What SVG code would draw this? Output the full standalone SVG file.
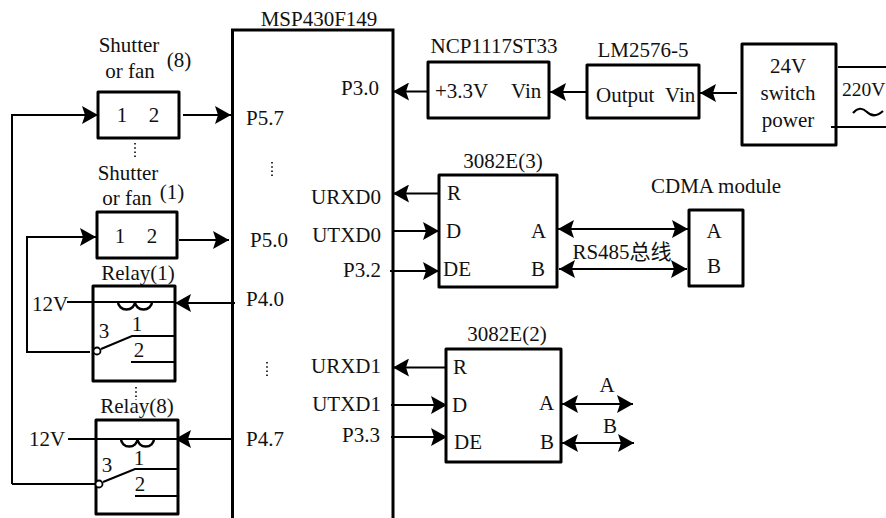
<svg xmlns="http://www.w3.org/2000/svg" width="886" height="518" viewBox="0 0 886 518">
<style>
text{font-family:"Liberation Serif","Noto Sans CJK SC",serif;font-size:21px;fill:#111}
.m{text-anchor:middle}
.e{text-anchor:end}
.b{fill:#fff;stroke:#000;stroke-width:3;stroke-linejoin:round}
.l{fill:none;stroke:#000;stroke-width:2}
.c{fill:none;stroke:#000;stroke-width:2.500}
.d{fill:none;stroke:#000;stroke-width:1.600;stroke-dasharray:1.600 2.600}
.h{fill:#000;stroke:none}
</style>
<defs>
<marker id="a" markerUnits="userSpaceOnUse" markerWidth="17" markerHeight="18" refX="16" refY="9" orient="auto-start-reverse"><path class="h" d="M0 0L16 9L0 18L3 9Z"/></marker>
</defs>
<g id="mcu">
<path d="M232.500 518V30H393V518" fill="#fff" stroke="#000" stroke-width="3"/>
<text x="319" y="26" class="m">MSP430F149</text>
<text x="246" y="125">P5.7</text><text x="250" y="247">P5.0</text><text x="246" y="306">P4.0</text><text x="246" y="446">P4.7</text>
<text x="379" y="95" class="e">P3.0</text>
<text x="381" y="204" class="e">URXD0</text><text x="381" y="242" class="e">UTXD0</text><text x="381" y="277" class="e">P3.2</text>
<text x="381" y="373" class="e">URXD1</text><text x="381" y="411" class="e">UTXD1</text><text x="380" y="442" class="e">P3.3</text>
<path class="d" d="M272 162V176M267 362V376"/>
</g>
<g id="shutter8">
<rect class="b" x="98" y="92" width="81" height="46"/>
<text x="122" y="122" class="m">1</text><text x="154" y="122" class="m">2</text>
<text x="129" y="52" class="m">Shutter</text><text x="130" y="78" class="m">or fan</text><text x="179" y="67" class="m">(8)</text>
</g>
<path class="d" d="M135 143V157"/>
<g id="shutter1">
<rect class="b" x="97" y="212" width="80" height="46"/>
<text x="120" y="243" class="m">1</text><text x="152" y="243" class="m">2</text>
<text x="128" y="180" class="m">Shutter</text><text x="127" y="205" class="m">or fan</text><text x="172" y="199" class="m">(1)</text>
</g>
<g id="relay1">
<rect class="b" x="93" y="286" width="82" height="95"/>
<text x="138" y="280" class="m">Relay(1)</text>
<text x="104" y="338" class="m">3</text><text x="137" y="331" class="m">1</text><text x="139" y="357" class="m">2</text>
<path class="l" d="M67 302H175M101 349L132 336H174M131 362H174"/>
<path class="c" d="M118 302a8.500 7.500 0 0 0 17 0a8.500 7.500 0 0 0 17 0"/>
<circle cx="97" cy="351" r="3.500" fill="#fff" stroke="#000" stroke-width="1.800"/>
</g>
<path class="d" d="M136 387V400"/>
<g id="relay8">
<rect class="b" x="96" y="420" width="82" height="94"/>
<text x="137" y="413" class="m">Relay(8)</text>
<text x="107" y="472" class="m">3</text><text x="139" y="465" class="m">1</text><text x="140" y="491" class="m">2</text>
<path class="l" d="M68 439H178M103 482L135 469H177M135 496H177"/>
<path class="c" d="M121 439a8.250 7.500 0 0 0 16.500 0a8.250 7.500 0 0 0 16.500 0"/>
<circle cx="99" cy="484" r="3.500" fill="#fff" stroke="#000" stroke-width="1.800"/>
</g>
<text x="50" y="311" class="m">12V</text><text x="47" y="446" class="m">12V</text>
<g id="ncp">
<rect class="b" x="428" y="62" width="121" height="56"/>
<text x="494" y="53" class="m">NCP1117ST33</text>
<text x="435" y="98">+3.3V</text><text x="511" y="98">Vin</text>
</g>
<g id="lm">
<rect class="b" x="587" y="65" width="112" height="53"/>
<text x="643" y="57" class="m">LM2576-5</text>
<text x="596" y="102">Output</text><text x="665" y="102">Vin</text>
</g>
<g id="switch">
<rect class="b" x="742" y="44" width="94" height="101"/>
<text x="788" y="73" class="m">24V</text><text x="788" y="100" class="m">switch</text><text x="788" y="127" class="m">power</text>
</g>
<g id="ac">
<text x="842" y="96" style="font-size:19.500px">220V</text>
<path d="M853 113q7-8 14-1t16-1" fill="none" stroke="#000" stroke-width="2.200"/>
<path class="l" d="M838 67H886M831 127H886"/>
</g>
<g id="x3">
<rect class="b" x="439" y="175" width="118" height="112"/>
<text x="503" y="168" class="m">3082E(3)</text>
<text x="447" y="200">R</text><text x="446" y="238">D</text><text x="443" y="276">DE</text><text x="531" y="238">A</text><text x="531" y="276">B</text>
</g>
<g id="cdma">
<rect class="b" x="689" y="210" width="54" height="76"/>
<text x="716" y="193" class="m">CDMA module</text>
<text x="714" y="238" class="m">A</text><text x="714" y="273" class="m">B</text>
</g>
<text x="622" y="259" class="m">RS485总线</text>
<g id="x2">
<rect class="b" x="446" y="349" width="115" height="113"/>
<text x="507" y="341" class="m">3082E(2)</text>
<text x="453" y="374">R</text><text x="452" y="412">D</text><text x="454" y="449">DE</text><text x="539" y="410">A</text><text x="540" y="449">B</text>
<text x="607" y="392" class="m">A</text><text x="610" y="433" class="m">B</text>
</g>
<g id="connectors">
<path class="l" marker-end="url(#a)" d="M12 484V115H98"/>
<path class="l" d="M12 484H95"/>
<path class="l" marker-end="url(#a)" d="M90 352H27V237H96"/>
<path class="l" marker-end="url(#a)" d="M183 115H231"/>
<path class="l" marker-end="url(#a)" d="M179 240H229"/>
<path class="l" marker-end="url(#a)" d="M235 303H175"/>
<path class="l" marker-end="url(#a)" d="M232 439H175"/>
<path class="l" marker-end="url(#a)" d="M428 91.500H393"/>
<path class="l" marker-end="url(#a)" d="M587 92H550"/>
<path class="l" marker-end="url(#a)" d="M737 93H700"/>
<path class="l" marker-end="url(#a)" d="M439 193.500H393"/>
<path class="l" marker-end="url(#a)" d="M392 231H439"/>
<path class="l" marker-end="url(#a)" d="M390 271H439"/>
<path class="l" marker-end="url(#a)" d="M446 367.500H393"/>
<path class="l" marker-end="url(#a)" d="M391 405H447"/>
<path class="l" marker-end="url(#a)" d="M391 437H447"/>
<path class="l" marker-start="url(#a)" marker-end="url(#a)" d="M558 229H688"/>
<path class="l" marker-start="url(#a)" marker-end="url(#a)" d="M559 269H687"/>
<path class="l" marker-start="url(#a)" marker-end="url(#a)" d="M562 404H633"/>
<path class="l" marker-start="url(#a)" marker-end="url(#a)" d="M562 443H634"/>
</g>
</svg>
